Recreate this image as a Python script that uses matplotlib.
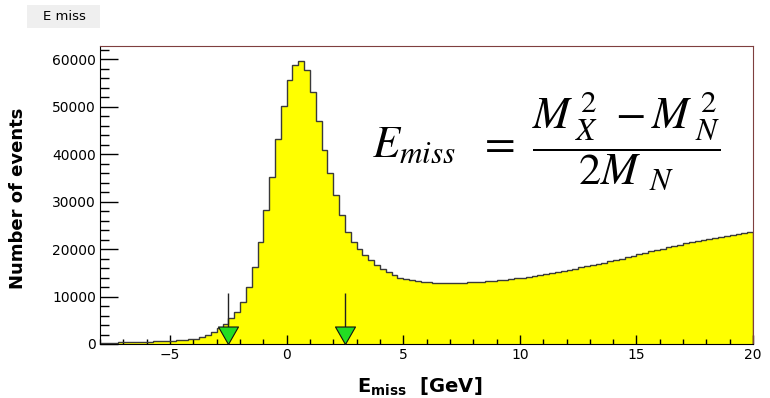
import matplotlib.pyplot as plt
import numpy as np
from matplotlib.path import Path
from matplotlib.patches import Rectangle
from matplotlib.ticker import MultipleLocator

# histogram range and bin contents (0.25 GeV bins)
x_lo, x_hi = -8, 20
counts = [
    250, 270, 300, 320, 350, 380, 410, 450,
    490, 540, 600, 660, 730, 810, 900, 1010,
    1150, 1500, 1900, 2500, 3300, 4300, 5400, 6800,
    8900, 12100, 16300, 21500, 28200, 35200, 43100, 50200,
    55600, 58700, 59600, 57700, 53100, 46900, 40800, 36000,
    31500, 27200, 23600, 21500, 20100, 18700, 17700, 16600,
    15900, 15200, 14500, 14000, 13600, 13400, 13200, 13100,
    13000, 12900, 12800, 12850, 12800, 12900, 12900, 13000,
    13050, 13150, 13200, 13350, 13400, 13550, 13700, 13850,
    14000, 14200, 14350, 14600, 14800, 14900, 15200, 15400,
    15600, 15900, 16150, 16400, 16650, 16900, 17150, 17400,
    17700, 18000, 18300, 18600, 18900, 19100, 19500, 19800,
    20100, 20400, 20700, 20900, 21200, 21450, 21700, 21900,
    22150, 22400, 22600, 22850, 23000, 23150, 23350, 23500,
]
edges = np.linspace(x_lo, x_hi, len(counts) + 1)

# cut positions marked with arrows
cuts = [-2.5, 2.5]
arrow_top = 10800

plt.rcParams['font.family'] = ['DejaVu Sans']
plt.rcParams['mathtext.fontset'] = 'custom'
plt.rcParams['mathtext.rm'] = 'DejaVu Sans:bold'
plt.rcParams['mathtext.it'] = 'DejaVu Sans:bold'
plt.rcParams['mathtext.bf'] = 'DejaVu Sans:bold'

fig = plt.figure(figsize=(7.7, 3.98), dpi=100)
ax = fig.add_axes([0.13, 0.1357, 0.848, 0.7487])

ax.stairs(counts, edges, fill=True, color='#ffff00', zorder=1)
ax.stairs(counts, edges, color='#3a3a3a', lw=1, zorder=2)

# arrows: line + green down-triangle with tip on the axis
ax.vlines(cuts, 0, arrow_top, color='#222222', lw=1, zorder=3)
tri = Path([(0, 0), (-1, 1.75), (1, 1.75), (0, 0)], closed=True)
ax.plot(cuts, [0] * len(cuts), linestyle='none', marker=tri, ms=25.2,
        markerfacecolor='#22dd22', markeredgecolor='#111111', mew=0.8,
        zorder=4, clip_on=False)

ax.set_xlim(x_lo, x_hi)
ax.set_ylim(0, 62800)
ax.xaxis.set_major_locator(MultipleLocator(5))
ax.xaxis.set_minor_locator(MultipleLocator(1))
ax.yaxis.set_major_locator(MultipleLocator(10000))
ax.yaxis.set_minor_locator(MultipleLocator(2000))
ax.tick_params(axis='y', which='major', direction='in', length=13, width=1,
               labelsize=10, pad=3)
ax.tick_params(axis='y', which='minor', direction='in', length=6.5, width=1)
ax.tick_params(axis='x', which='major', direction='in', length=6.5, width=1,
               labelsize=10, pad=3)
ax.tick_params(axis='x', which='minor', direction='in', length=3.5, width=1)

for s in ['top', 'right']:
    ax.spines[s].set_color('#7f3f3f')
for s in ['left', 'bottom']:
    ax.spines[s].set_color('black')

ax.set_ylabel('Number of events', fontsize=13, fontweight='bold')
ax.yaxis.set_label_coords(-0.112, 0.49)
ax.set_xlabel(r'$\mathbf{E}_{\mathbf{miss}}$  [GeV]', fontsize=14,
              fontweight='bold', math_fontfamily='custom')
ax.xaxis.set_label_coords(0.49, -0.105)

# formula
fig.text(546.5 / 770, 1 - 141 / 398,
         r'$E_{miss}\ \ =\ \dfrac{M_{\;X}^{\;2}\ - M_{\;N}^{\;2}}{2M_{\;\;N}}$',
         ha='center', va='center', fontsize=32, math_fontfamily='stix')

# title box
fig.patches.append(Rectangle((27 / 770, 1 - 28 / 398), 73 / 770, 23 / 398,
                             transform=fig.transFigure, facecolor='#efefef',
                             edgecolor='none'))
fig.text(64 / 770, 1 - 16.5 / 398, 'E miss', ha='center', va='center',
         fontsize=9.5)

plt.savefig('out.png', dpi=100)
